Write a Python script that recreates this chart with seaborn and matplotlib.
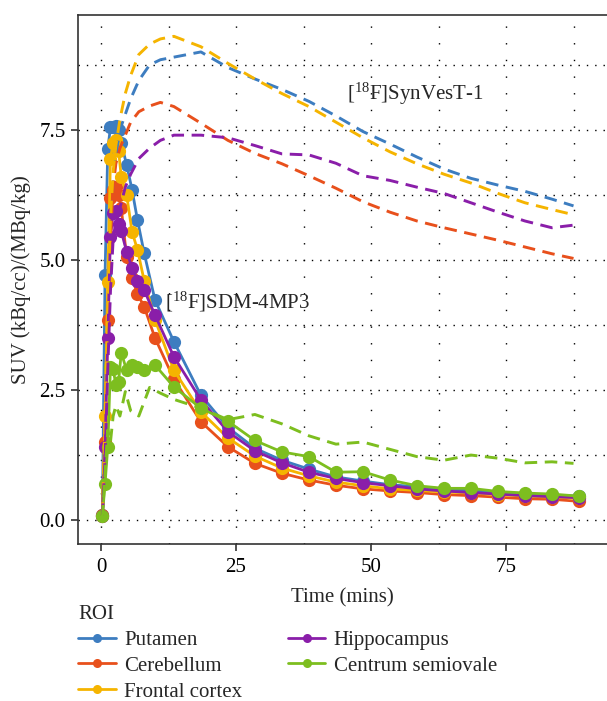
import matplotlib
matplotlib.use("Agg")
import matplotlib.pyplot as plt
import seaborn as sns
import pandas as pd
from matplotlib.lines import Line2D
from matplotlib.ticker import MultipleLocator

rois = ["Putamen", "Cerebellum", "Frontal cortex", "Hippocampus", "Centrum semiovale"]
roi_colors = ["#3D7DC0", "#E8501C", "#F5B400", "#8A1EA9", "#7DBE1F"]

# [18F]SDM-4MP3 frame mid-times (min)
t_sdm = [0.25, 0.75, 1.25, 1.75, 2.25, 2.75, 3.25, 3.75, 4.75, 5.75, 6.75, 8, 10, 13.5,
         18.5, 23.5, 28.5, 33.5, 38.5, 43.5, 48.5, 53.5, 58.5, 63.5, 68.5, 73.5, 78.5, 83.5, 88.5]

sdm_putamen = [0.1, 4.72, 7.13, 7.55, 7.55, 7.58, 7.5, 7.25, 6.83, 6.35, 5.77, 5.13, 4.23, 3.43,
               2.40, 1.78, 1.38, 1.15, 0.98, 0.83, 0.75, 0.68, 0.64, 0.60, 0.57, 0.53, 0.50, 0.48, 0.46]
sdm_cerebellum = [0.1, 1.5, 3.85, 6.2, 6.35, 6.4, 6.25, 6.0, 5.05, 4.65, 4.35, 4.1, 3.5, 2.71,
                  1.89, 1.41, 1.09, 0.90, 0.77, 0.67, 0.60, 0.56, 0.53, 0.49, 0.47, 0.44, 0.41, 0.40, 0.36]
sdm_frontal = [0.08, 2.0, 4.58, 6.95, 7.25, 7.3, 7.1, 6.6, 6.25, 5.54, 5.2, 4.6, 3.85, 2.88,
               2.08, 1.58, 1.23, 1.00, 0.85, 0.73, 0.66, 0.60, 0.57, 0.54, 0.52, 0.49, 0.46, 0.44, 0.42]
sdm_hippocampus = [0.08, 1.4, 3.5, 5.45, 5.9, 5.95, 5.7, 5.55, 5.16, 4.85, 4.6, 4.42, 3.94, 3.14,
                   2.31, 1.70, 1.33, 1.10, 0.92, 0.80, 0.72, 0.66, 0.60, 0.56, 0.53, 0.50, 0.47, 0.45, 0.43]
sdm_centrum = [0.08, 0.7, 1.4, 2.95, 2.9, 2.6, 2.66, 3.22, 2.88, 2.98, 2.95, 2.88, 2.98, 2.56,
               2.15, 1.90, 1.53, 1.31, 1.22, 0.92, 0.93, 0.77, 0.66, 0.61, 0.61, 0.55, 0.52, 0.50, 0.46]

# [18F]SynVesT-1 frame mid-times (min)
t_syn = [0.25, 0.75, 1.25, 1.75, 2.25, 2.75, 3.5, 4.5, 5.5, 7, 9, 11, 13.5,
         18.5, 23.5, 28.5, 33.5, 38.5, 43.5, 48.5, 53.5, 58.5, 63.5, 68.5, 73.5, 78.5, 83.5, 87.5]

syn_putamen = [0.1, 1.8, 4.0, 5.6, 6.5, 7.0, 7.5, 7.8, 8.1, 8.45, 8.75, 8.85, 8.9,
               9.0, 8.7, 8.48, 8.28, 8.05, 7.77, 7.47, 7.23, 6.98, 6.75, 6.57, 6.44, 6.32, 6.17, 6.04]
syn_cerebellum = [0.1, 1.7, 3.8, 5.4, 6.4, 6.85, 7.15, 7.4, 7.65, 7.85, 7.96, 8.03, 7.95,
                  7.63, 7.3, 7.05, 6.85, 6.62, 6.38, 6.12, 5.92, 5.75, 5.62, 5.5, 5.38, 5.25, 5.12, 5.03]
syn_frontal = [0.1, 2.0, 4.2, 5.8, 6.7, 7.2, 7.7, 8.2, 8.55, 8.95, 9.15, 9.25, 9.3,
               9.1, 8.78, 8.48, 8.2, 7.95, 7.65, 7.35, 7.08, 6.85, 6.65, 6.48, 6.28, 6.1, 5.97, 5.87]
syn_hippocampus = [0.08, 1.2, 2.9, 4.4, 5.4, 5.75, 6.0, 6.4, 6.65, 6.95, 7.15, 7.3, 7.4,
                   7.4, 7.35, 7.2, 7.04, 7.02, 6.86, 6.62, 6.53, 6.4, 6.28, 6.1, 5.92, 5.75, 5.62, 5.67]
syn_centrum = [0.05, 0.9, 1.73, 1.5, 2.0, 2.2, 2.0, 2.47, 2.1, 2.0, 2.55, 2.44, 2.32,
               2.15, 1.93, 2.03, 1.85, 1.62, 1.46, 1.5, 1.36, 1.22, 1.15, 1.25, 1.19, 1.1, 1.12, 1.09]

sdm_values = [sdm_putamen, sdm_cerebellum, sdm_frontal, sdm_hippocampus, sdm_centrum]
syn_values = [syn_putamen, syn_cerebellum, syn_frontal, syn_hippocampus, syn_centrum]

rows = []
for roi, vals in zip(rois, sdm_values):
    for t, v in zip(t_sdm, vals):
        rows.append({"Time": t, "SUV": v, "ROI": roi, "Tracer": "SDM-4MP3"})
for roi, vals in zip(rois, syn_values):
    for t, v in zip(t_syn, vals):
        rows.append({"Time": t, "SUV": v, "ROI": roi, "Tracer": "SynVesT-1"})
df = pd.DataFrame(rows)

sns.set_theme(style="white")
plt.rcParams["font.family"] = ["Liberation Serif", "DejaVu Serif"]
plt.rcParams["mathtext.fontset"] = "custom"
plt.rcParams["mathtext.rm"] = "Liberation Serif"
plt.rcParams["mathtext.default"] = "regular"

palette = dict(zip(rois, roi_colors))

fig = plt.figure(figsize=(6.07, 7.01), dpi=100)
ax = fig.add_axes([78 / 607, 1 - 544 / 701, 1 - 78 / 607, (544 - 15) / 701])

sdm = df[df["Tracer"] == "SDM-4MP3"]
syn = df[df["Tracer"] == "SynVesT-1"]

sns.lineplot(data=sdm, x="Time", y="SUV", hue="ROI", hue_order=rois, palette=palette,
             marker="o", markersize=9.5, markeredgewidth=0, linewidth=2.0,
             legend=False, ax=ax, zorder=3)
for roi in rois:
    sub = syn[syn["ROI"] == roi]
    sns.lineplot(data=sub, x="Time", y="SUV", color=palette[roi], linewidth=2.1,
                 dashes=False, legend=False, ax=ax, zorder=4)
# make the SynVesT-1 curves dashed
for line in ax.lines[len(rois):]:
    line.set_linestyle((0, (4.3, 2.6)))

ax.set_xlim(-4.26, 93.7)
ax.set_ylim(-0.46, 9.71)
ax.xaxis.set_major_locator(MultipleLocator(25))
ax.xaxis.set_minor_locator(MultipleLocator(12.5))
ax.yaxis.set_major_locator(MultipleLocator(2.5))
ax.yaxis.set_minor_locator(MultipleLocator(1.25))
ax.set_yticks([0, 2.5, 5, 7.5])
ax.set_yticklabels(["0.0", "2.5", "5.0", "7.5"])
ax.set_xticks([0, 25, 50, 75])

ax.grid(True, which="both", axis="x", color="black", linestyle=(0, (1, 11)), linewidth=1.0)
ax.grid(True, which="both", axis="y", color="black", linestyle=(0, (1, 5)), linewidth=1.0)
ax.set_axisbelow(True)

for side in ["top", "left", "bottom"]:
    ax.spines[side].set_visible(True)
    ax.spines[side].set_color("#333333")
    ax.spines[side].set_linewidth(1.2)
ax.spines["right"].set_visible(False)

ax.tick_params(axis="both", which="major", direction="out", length=5, width=1.2,
               color="#333333", labelsize=15, labelcolor="black", bottom=True, left=True)
ax.tick_params(axis="x", which="major", pad=5)
ax.tick_params(axis="y", which="major", pad=4)
ax.tick_params(axis="both", which="minor", length=0)

ax.set_xlabel("Time (mins)", fontsize=15, labelpad=8)
ax.set_ylabel("SUV (kBq/cc)/(MBq/kg)", fontsize=15, labelpad=6)

ax.text(45.5, 8.2, "[$^{18}$F]SynVesT-1", fontsize=15, ha="left", va="center")
ax.text(11.8, 4.2, "[$^{18}$F]SDM-4MP3", fontsize=15, ha="left", va="center")

handles = [Line2D([0], [0], color=c, linewidth=2.0, marker="o", markersize=6.5,
                  markeredgewidth=0) for c in roi_colors]
leg = fig.legend(handles, rois, title="ROI", loc="upper left",
                 bbox_to_anchor=(76 / 607, 1 - 603 / 701), ncol=2, frameon=False,
                 fontsize=15, title_fontsize=15, handlelength=1.8, handletextpad=0.4,
                 columnspacing=2.2, labelspacing=0.3, alignment="left", borderaxespad=0,
                 borderpad=0.1)

fig.savefig("out.png", dpi=100)
